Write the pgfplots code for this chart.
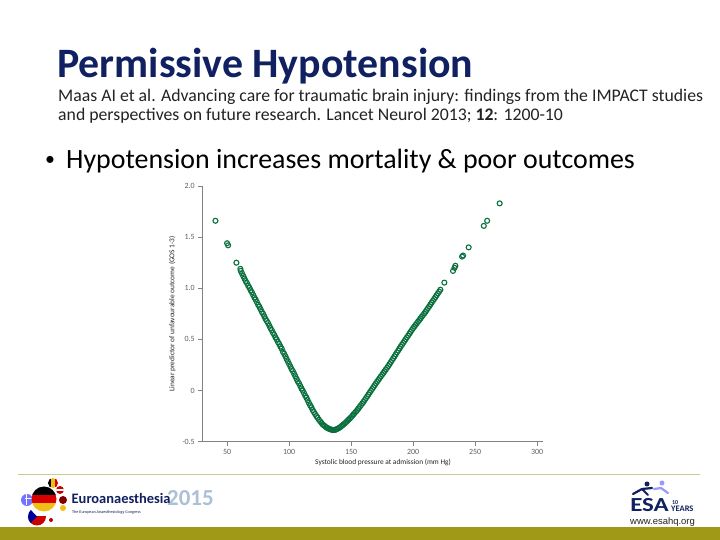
\documentclass[border=0pt]{standalone}
\usepackage{pgfplots}
\pgfplotsset{compat=1.18}
\usepackage{fontspec}
\setmainfont{Carlito}
\newfontfamily\webfont{Liberation Sans}

\definecolor{titleblue}{RGB}{16,32,96}
\definecolor{ptgreen}{RGB}{10,112,62}
\definecolor{axisgray}{RGB}{130,130,130}
\definecolor{lblgray}{RGB}{95,95,95}
\definecolor{olive}{RGB}{160,153,24}
\definecolor{rulecol}{RGB}{205,200,150}
\definecolor{yearblue}{RGB}{172,192,214}
\definecolor{txtgray}{RGB}{35,35,35}
\definecolor{gold}{RGB}{240,190,20}

% curve: SBP (mm Hg), linear predictor
\pgfplotstableread{
x y
40.6 1.66
50.0 1.44
50.8 1.42
57.5 1.25
60.7 1.19
61 1.17
62 1.145
63 1.12
64 1.095
65 1.07
66 1.05
67 1.025
68 1.005
69 0.98
70 0.96
71 0.935
72 0.91
73 0.89
74 0.865
75 0.84
76 0.82
77 0.795
78 0.77
79 0.75
80 0.725
81 0.70
82 0.68
83 0.66
84 0.635
85 0.61
86 0.59
87 0.565
88 0.545
89 0.52
90 0.50
91 0.475
92 0.455
93 0.43
94 0.41
95 0.38
96 0.36
97 0.335
98 0.31
99 0.285
100 0.26
101 0.235
102 0.21
103 0.19
104 0.165
105 0.14
106 0.115
107 0.09
108 0.07
109 0.045
110 0.02
111 0.00
112 -0.025
113 -0.05
114 -0.07
115 -0.095
116 -0.12
117 -0.145
118 -0.165
119 -0.19
120 -0.21
121 -0.23
122 -0.25
123 -0.265
124 -0.285
125 -0.30
126 -0.315
127 -0.33
128 -0.34
129 -0.35
130 -0.36
131 -0.367
132 -0.373
133 -0.378
134 -0.382
135 -0.385
136 -0.386
137 -0.384
138 -0.38
139 -0.374
140 -0.367
141 -0.36
142 -0.35
143 -0.34
144 -0.33
145 -0.32
146 -0.308
147 -0.296
148 -0.284
149 -0.272
150 -0.26
151 -0.246
152 -0.232
153 -0.218
154 -0.204
155 -0.19
156 -0.174
157 -0.158
158 -0.142
159 -0.126
160 -0.11
161 -0.092
162 -0.074
163 -0.056
164 -0.038
165 -0.02
166 -0.002
167 0.016
168 0.034
169 0.052
170 0.07
171 0.087
172 0.104
173 0.121
174 0.138
175 0.155
176 0.172
177 0.189
178 0.206
179 0.223
180 0.24
181 0.259
182 0.278
183 0.297
184 0.316
185 0.335
186 0.354
187 0.373
188 0.392
189 0.411
190 0.43
191 0.448
192 0.466
193 0.484
194 0.502
195 0.52
196 0.538
197 0.556
198 0.574
199 0.592
200 0.61
201 0.626
202 0.642
203 0.658
204 0.674
205 0.69
206 0.706
207 0.722
208 0.738
209 0.754
210 0.77
211 0.788
212 0.806
213 0.824
214 0.842
215 0.86
216 0.878
217 0.896
218 0.914
219 0.932
220 0.95
221 0.968
222 0.986
225.2 1.055
232.2 1.17
233.4 1.20
234.1 1.22
239.5 1.31
240.3 1.32
244.8 1.40
257.0 1.61
259.7 1.66
269.8 1.83
}\curvedata

\begin{document}
\begin{tikzpicture}[x=1bp,y=1bp]
\useasboundingbox (0,0) rectangle (720,540);
\fill[white] (0,0) rectangle (720,540);

% slide text
\node[anchor=base west, inner sep=0, text=titleblue, font=\fontsize{42}{48}\selectfont\bfseries] at (57,462) {Permissive Hypotension};
\node[anchor=base west, inner sep=0, text=txtgray, font=\fontsize{17.8}{20}\selectfont] at (58,438) {Maas AI et al. Advancing care for traumatic brain injury: findings from the IMPACT studies};
\node[anchor=base west, inner sep=0, text=txtgray, font=\fontsize{17.8}{20}\selectfont] at (58,419) {and perspectives on future research. Lancet Neurol 2013; \textbf{12}: 1200-10};
\node[anchor=base west, inner sep=0, font=\fontsize{20}{24}\selectfont] at (45,374) {•};
\node[anchor=base west, inner sep=0, font=\fontsize{28}{32}\selectfont] at (66,371) {Hypotension increases mortality \& poor outcomes};

% footer
\draw[rulecol, line width=1bp] (18,65) -- (700,65);
\fill[olive] (0,0) rectangle (720,13);

% Euroanaesthesia logo (simplified)
\fill[blue!55!white] (27,40) circle (6);
\fill[white] (24.5,40.8) rectangle (32,42.2);
\fill[white] (25.8,34.5) rectangle (27.2,45.5);
\begin{scope}
\clip (37,23.5) circle (9);
\fill[white] (27,23.5) rectangle (47,33);
\fill[red!80!black] (27,14) rectangle (47,23.5);
\fill[blue!60!black] (28,14) -- (37,23.5) -- (28,33) -- cycle;
\end{scope}
\begin{scope}
\clip (53,57) circle (5);
\fill[black] (48,52) rectangle (51.3,62);
\fill[gold] (51.3,52) rectangle (54.7,62);
\fill[red!85!black] (54.7,52) rectangle (58,62);
\end{scope}
\begin{scope}
\clip (60,50) circle (4);
\fill[red!80!black] (56,46) rectangle (64,54);
\fill[white] (56,48.7) rectangle (64,51.3);
\end{scope}
\fill[red!50!black] (63,40) circle (4);
\fill[gold] (63,32) circle (3);
\fill[red!70!black] (51,20) circle (2);
\begin{scope}
\clip (44,41) circle (12.5);
\fill[black] (30,45.2) rectangle (58,54);
\fill[red!85!black] (30,36.8) rectangle (58,45.2);
\fill[gold] (30,28) rectangle (58,36.8);
\end{scope}
\node[anchor=base west, inner sep=0, text=yearblue, font=\fontsize{23}{26}\selectfont\bfseries] at (167,34.3) {2015};
\node[anchor=base west, inner sep=0, text=titleblue, font=\fontsize{14.5}{17}\selectfont\bfseries] at (71.5,36.7) {Euroanaesthesia};
\node[anchor=base west, inner sep=0, text=titleblue, font=\fontsize{4.2}{5}\selectfont] at (72,26) {The European Anaesthesiology Congress};

% ESA logo (simplified)
\node[anchor=base west, inner sep=0, text=titleblue, font=\fontsize{20}{22}\selectfont\bfseries, xscale=1.25, transform shape] at (630,28.5) {ESA};
\node[anchor=base west, inner sep=0, text=titleblue, font=\fontsize{6}{7}\selectfont\bfseries] at (672,35.5) {10};
\node[anchor=base west, inner sep=0, text=titleblue, font=\fontsize{8.5}{9}\selectfont\bfseries] at (671,28.2) {YEARS};
\fill[titleblue] (647,56) circle (2.5);
\draw[titleblue, line width=2.2bp, line cap=round] (633,46) -- (642,51) -- (652,52);
\draw[titleblue, line width=2bp, line cap=round] (642,51) -- (648,45);
\fill[blue!40!white] (662,57) circle (2.5);
\draw[blue!40!white, line width=2.2bp, line cap=round] (654,51) -- (661,52) -- (668,47);
\node[anchor=base west, inner sep=0, text=txtgray, font=\webfont\fontsize{9.5}{11}\selectfont] at (630,15) {www.esahq.org};

\begin{axis}[
  at={(202.3bp,98.3bp)}, anchor=south west,
  scale only axis, width=341bp, height=255.7bp,
  xmin=30, xmax=305, ymin=-0.5, ymax=2.0,
  axis x line*=bottom, axis y line*=left,
  axis line style={draw=axisgray, line width=0.6bp, -},
  xtick={50,100,150,200,250,300},
  xticklabels={50,100,150,200,250,300},
  ytick={-0.5,0,0.5,1.0,1.5,2.0},
  yticklabels={-0.5,0,0.5,1.0,1.5,2.0},
  tick align=outside, major tick length=4bp,
  tick style={draw=axisgray, line width=0.6bp},
  ticklabel style={font=\fontsize{8}{9}\selectfont, text=lblgray},
  xlabel={Systolic blood pressure at admission (mm Hg)},
  ylabel={Linear predictor of unfavourable outcome (GOS 1-3)},
  label style={font=\fontsize{7.4}{9}\selectfont, text=txtgray},
  xlabel style={at={(axis description cs:0.53,-0.083)}, anchor=center},
  ylabel style={at={(axis description cs:-0.088,0.5)}, anchor=center},
  clip=false,
]
\addplot[only marks, mark=o, mark size=2.5bp,
  mark options={draw=ptgreen, line width=1.1bp}] table {\curvedata};
\end{axis}
\end{tikzpicture}
\end{document}
